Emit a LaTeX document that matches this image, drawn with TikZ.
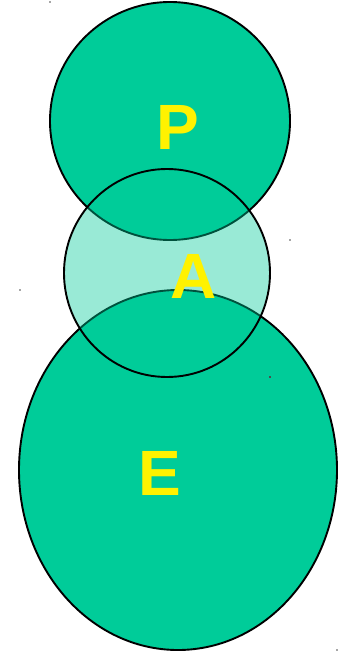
\documentclass[tikz,border=0pt]{standalone}
\usepackage{fontspec}
\setmainfont{Liberation Sans}
\begin{document}
\begin{tikzpicture}[x=1pt,y=-1pt,
  blob/.style={draw=black,line width=1.9pt,fill=teal0},
  lbl/.style={text=yellow,font=\fontsize{64}{64}\selectfont\bfseries,inner sep=0pt},
  speck/.style={fill=gray!70,inner sep=0pt,minimum size=1.2pt,draw=none}]
\definecolor{teal0}{RGB}{0,204,153}
\useasboundingbox (0,0) rectangle (351,653);
\fill[white] (0,0) rectangle (351,653);
\draw[blob] (170,121) ellipse [x radius=120,y radius=119];
\draw[blob] (178,470) ellipse [x radius=159,y radius=180];
\draw[draw=black,line width=1.9pt,fill=teal0,fill opacity=0.4] (167,273) ellipse [x radius=103,y radius=104];
\node[lbl] (P) at (178,127) {P};
\node[lbl] (A) at (194,276) {A};
\node[lbl] (E) at (160,473) {E};
\node[speck] (s1) at (50,2) {};
\node[speck] (s2) at (290,240) {};
\node[speck] (s3) at (20,290) {};
\node[speck,fill=black!70] (s4) at (270,377) {};
\node[speck] (s5) at (337,650) {};
\end{tikzpicture}
\end{document}
